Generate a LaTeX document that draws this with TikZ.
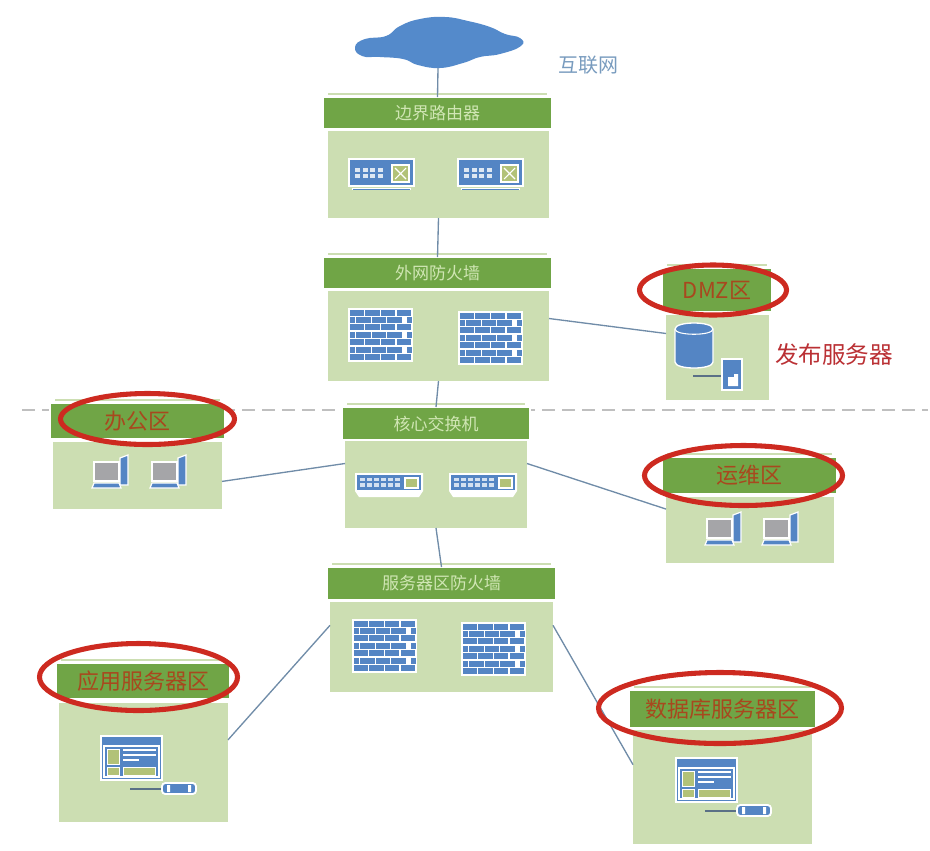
\documentclass[tikz,border=0pt]{standalone}
\usepackage{fontspec}
\setmainfont{Noto Sans CJK SC}
\usepackage{xcolor}
\usetikzlibrary{shapes.geometric, calc}
\definecolor{hdrgreen}{RGB}{112,165,70}
\definecolor{bodygreen}{RGB}{204,222,178}
\definecolor{hdrtext}{RGB}{208,230,180}
\definecolor{zonetext}{RGB}{168,72,30}
\definecolor{ringred}{RGB}{205,42,32}
\definecolor{iconblue}{RGB}{84,133,196}
\definecolor{cloudblue}{RGB}{84,138,203}
\definecolor{linkblue}{RGB}{112,140,168}
\definecolor{netlabel}{RGB}{120,155,190}
\definecolor{svclabel}{RGB}{186,48,52}
\definecolor{olive}{RGB}{178,194,120}
\definecolor{screen}{RGB}{165,165,168}
\tikzset{
  hdrbox/.style 2 args={fill=hdrgreen, draw=white, line width=0.8pt, inner sep=0pt, outer sep=0pt,
    minimum width=#1*0.75pt, minimum height=#2*0.75pt, text=hdrtext, font=\fontsize{12.75}{15}\selectfont},
  zonebox/.style 2 args={hdrbox={#1}{#2}, text=zonetext, font=\fontsize{16.5}{19}\selectfont},
  bodybox/.style 2 args={fill=bodygreen, inner sep=0pt, outer sep=0pt,
    minimum width=#1*0.75pt, minimum height=#2*0.75pt},
  ringbox/.style 2 args={shape=ellipse, draw=ringred, line width=3.8pt, inner sep=0pt,
    minimum width=#1*0.75pt, minimum height=#2*0.75pt},
  link/.style={draw=linkblue, line width=1pt},
  % routeur
  routericon/.pic={
    \fill[iconblue, draw=white, line width=0.9pt] (0,0) rectangle (65,27);
    \foreach \i in {0,...,3}
      \foreach \j in {0,1}
        \fill[white!80!iconblue] (6+7.5*\i, 9+6*\j) rectangle ++(5,4);
    \fill[olive, draw=white, line width=1.2pt] (43,6) rectangle (60,23);
    \draw[white, line width=0.8pt] (46,9) -- (57,20) (57,9) -- (46,20);
    \draw[white, line width=2pt] (3,30) -- (62,30);
    \draw[iconblue, line width=0.7pt] (4,30) -- (61,30);
  },
  % mur de briques
  wallicon/.pic={
    \fill[white] (0,0) rectangle (65,54);
    \foreach \r in {0,2,4,6}
      \foreach \c in {0,...,3}
        \fill[iconblue] (1.5+15.7*\c, 1.5+7.45*\r) rectangle ++(14.5,6);
    \foreach \r in {1,3,5} {
      \fill[iconblue] (1.5, 1.5+7.45*\r) rectangle ++(5,6);
      \fill[iconblue] (58.5, 1.5+7.45*\r) rectangle ++(5,6);
      \foreach \c in {0,1,2}
        \fill[iconblue] (8+15.7*\c, 1.5+7.45*\r) rectangle ++(14.5,6);
    }
  },
  % commutateur
  switchicon/.pic={
    \fill[white] (0,0) rectangle (68,18) -- (64,24) -- (4,24) -- (0,18);
    \fill[iconblue] (2,2) rectangle (66,17);
    \foreach \i in {0,...,5}
      \foreach \j in {0,1}
        \fill[white!75!iconblue] (5+7*\i, 4.5+5.5*\j) rectangle ++(4.5,3.5);
    \fill[olive, draw=white, line width=1.2pt] (50,5) rectangle (63,15);
  },
  % poste de travail
  pcicon/.pic={
    \fill[iconblue, draw=white, line width=0.9pt] (30,5) -- (38,2) -- (38,32) -- (30,32) -- cycle;
    \fill[screen, draw=white, line width=1.8pt] (4,9) rectangle (29,28);
    \fill[iconblue, draw=white, line width=0.9pt] (4,30) -- (29,30) -- (31,35) -- (2,35) -- cycle;
  },
  % serveur applicatif
  webicon/.pic={
    \fill[iconblue, draw=white, line width=1pt] (0,0) rectangle (61,44);
    \draw[white, line width=0.8pt] (3,10) rectangle (58,41);
    \fill[olive, draw=white, line width=0.7pt] (6,13) rectangle (18,28);
    \draw[white, line width=1pt] (22,14) -- (55,14) (22,19) -- (55,19) (22,24) -- (38,24);
    \fill[olive, draw=white, line width=0.7pt] (6,31) rectangle (18,39);
    \fill[olive, draw=white, line width=0.7pt] (22,31) rectangle (54,39);
    \draw[linkblue!80!black, line width=1.2pt] (29,53) -- (61,53);
    \fill[iconblue, draw=white, line width=1.4pt, rounded corners=2.5pt] (61,47) rectangle (95,58);
    \fill[white] (66,49) rectangle (69,56) (87,49) rectangle (90,56);
  },
  % base de donnees
  dbicon/.pic={
    \fill[iconblue, draw=white, line width=1pt] (0,6) -- (0,39) .. controls (0,47) and (38,47) .. (38,39) -- (38,6) .. controls (38,-2) and (0,-2) .. (0,6);
    \draw[white, line width=0.8pt] (0,6) .. controls (0,13) and (38,13) .. (38,6);
    \draw[linkblue!80!black, line width=1.2pt] (18,53) -- (47,53);
    \fill[iconblue, draw=white, line width=1pt] (47,36) rectangle (67,67);
    \fill[white] (53,54) -- (59,54) -- (59,51) -- (63,51) -- (63,63) -- (53,63) -- cycle;
  }
}

\begin{document}
\begin{tikzpicture}[x=0.75pt, y=-0.75pt]
  \useasboundingbox (0,0) rectangle (930,850);

  % separation des zones
  \coordinate (sepL) at (22,410);
  \coordinate (sepR) at (928,410);
  \draw[black!25, line width=1.3pt, dash pattern=on 10pt off 5pt] (sepL) -- (sepR);

  % internet
  \fill[cloudblue] plot[smooth cycle, tension=0.8] coordinates {
    (355,47) (365,39) (386,36) (400,26) (420,19) (445,17) (468,21)
    (490,27) (505,34) (520,38) (521,46) (500,54) (480,57) (463,63)
    (440,68) (418,65) (403,59) (380,57) (362,56)};
  \coordinate (inet) at (438,68);
  \node[text=netlabel, font=\fontsize{15}{18}\selectfont] (inetlabel) at (588,65) {互联网};

  % corps des blocs
  \node[bodybox={221}{87}]  (rtrbody)    at (438.5,174.5) {};
  \node[bodybox={221}{90}]  (fwbody)     at (438.5,336) {};
  \node[bodybox={182}{87}]  (corebody)   at (436,484.5) {};
  \node[bodybox={223}{90}]  (srvbody)    at (441.5,647) {};
  \node[bodybox={103}{85}]  (dmzbody)    at (717.5,357.5) {};
  \node[bodybox={169}{67}]  (officebody) at (137.5,475.5) {};
  \node[bodybox={168}{66}]  (opsbody)    at (750,530) {};
  \node[bodybox={169}{119}] (appbody)    at (143.5,762.5) {};
  \node[bodybox={179}{114}] (dbbody)     at (722.5,787) {};

  % en-tetes
  \node[hdrbox={229}{32}]  (rtrhdr)    at (437.5,113) {边界路由器};
  \node[hdrbox={229}{32}]  (fwhdr)     at (437.5,273) {外网防火墙};
  \node[hdrbox={188}{33}]  (corehdr)   at (436,423.5) {核心交换机};
  \node[hdrbox={229}{33}]  (srvhdr)    at (441.5,583.5) {服务器区防火墙};
  \node[zonebox={110}{44}] (dmzhdr)    at (717,290) {DMZ区};
  \node[zonebox={175}{36}] (officehdr) at (137.5,421) {办公区};
  \node[zonebox={175}{37}] (opshdr)    at (749.5,475.5) {运维区};
  \node[zonebox={174}{36}] (apphdr)    at (143,681) {应用服务器区};
  \node[zonebox={187}{38}] (dbhdr)     at (722.5,709) {数据库服务器区};

  % liseré au-dessus des en-tetes
  \foreach \n in {rtr,fw,core,srv,dmz,office,ops,app,db}
    \draw[bodygreen, line width=1.2pt] ($(\n hdr.north west)+(5,-3)$) -- ($(\n hdr.north east)+(-5,-3)$);

  % liaisons
  \draw[link] (inet) -- (rtrhdr.north);
  \draw[link] (rtrbody.south) -- (fwhdr.north);
  \draw[link] (fwbody.south) -- (corehdr.north);
  \draw[link] (fwbody.9) -- (dmzbody.155);
  \draw[link] (officebody.-4) -- (corebody.167);
  \draw[link] (corebody.13) -- (opsbody.166);
  \draw[link] (corebody.south) -- (srvhdr.north);
  \draw[link] (srvbody.169) -- (appbody.15);
  \draw[link] (srvbody.11) -- (dbbody.166.5);

  % equipements
  \pic at (349,159) {routericon};
  \pic at (458,159) {routericon};
  \pic at (348,308) {wallicon};
  \pic at (458,311) {wallicon};
  \pic at (355,473) {switchicon};
  \pic at (449,473) {switchicon};
  \pic at (352,619) {wallicon};
  \pic at (461,622) {wallicon};
  \pic at (90,453) {pcicon};
  \pic at (148,453) {pcicon};
  \pic at (703,510) {pcicon};
  \pic at (760,510) {pcicon};
  \pic at (675,323) {dbicon};
  \pic at (101,736) {webicon};
  \pic at (676,758) {webicon};

  \node[text=svclabel, font=\fontsize{17.7}{21}\selectfont] (svclabel) at (834,355) {发布服务器};

  % zones entourees
  \node[ringbox={147}{50}]  (dmzring)    at (713,290) {};
  \node[ringbox={174}{51}]  (officering) at (147.5,419) {};
  \node[ringbox={198}{60}]  (opsring)    at (743.5,475.5) {};
  \node[ringbox={198}{67}]  (appring)    at (138.5,677) {};
  \node[ringbox={243}{71}]  (dbring)     at (720,708) {};
\end{tikzpicture}
\end{document}
